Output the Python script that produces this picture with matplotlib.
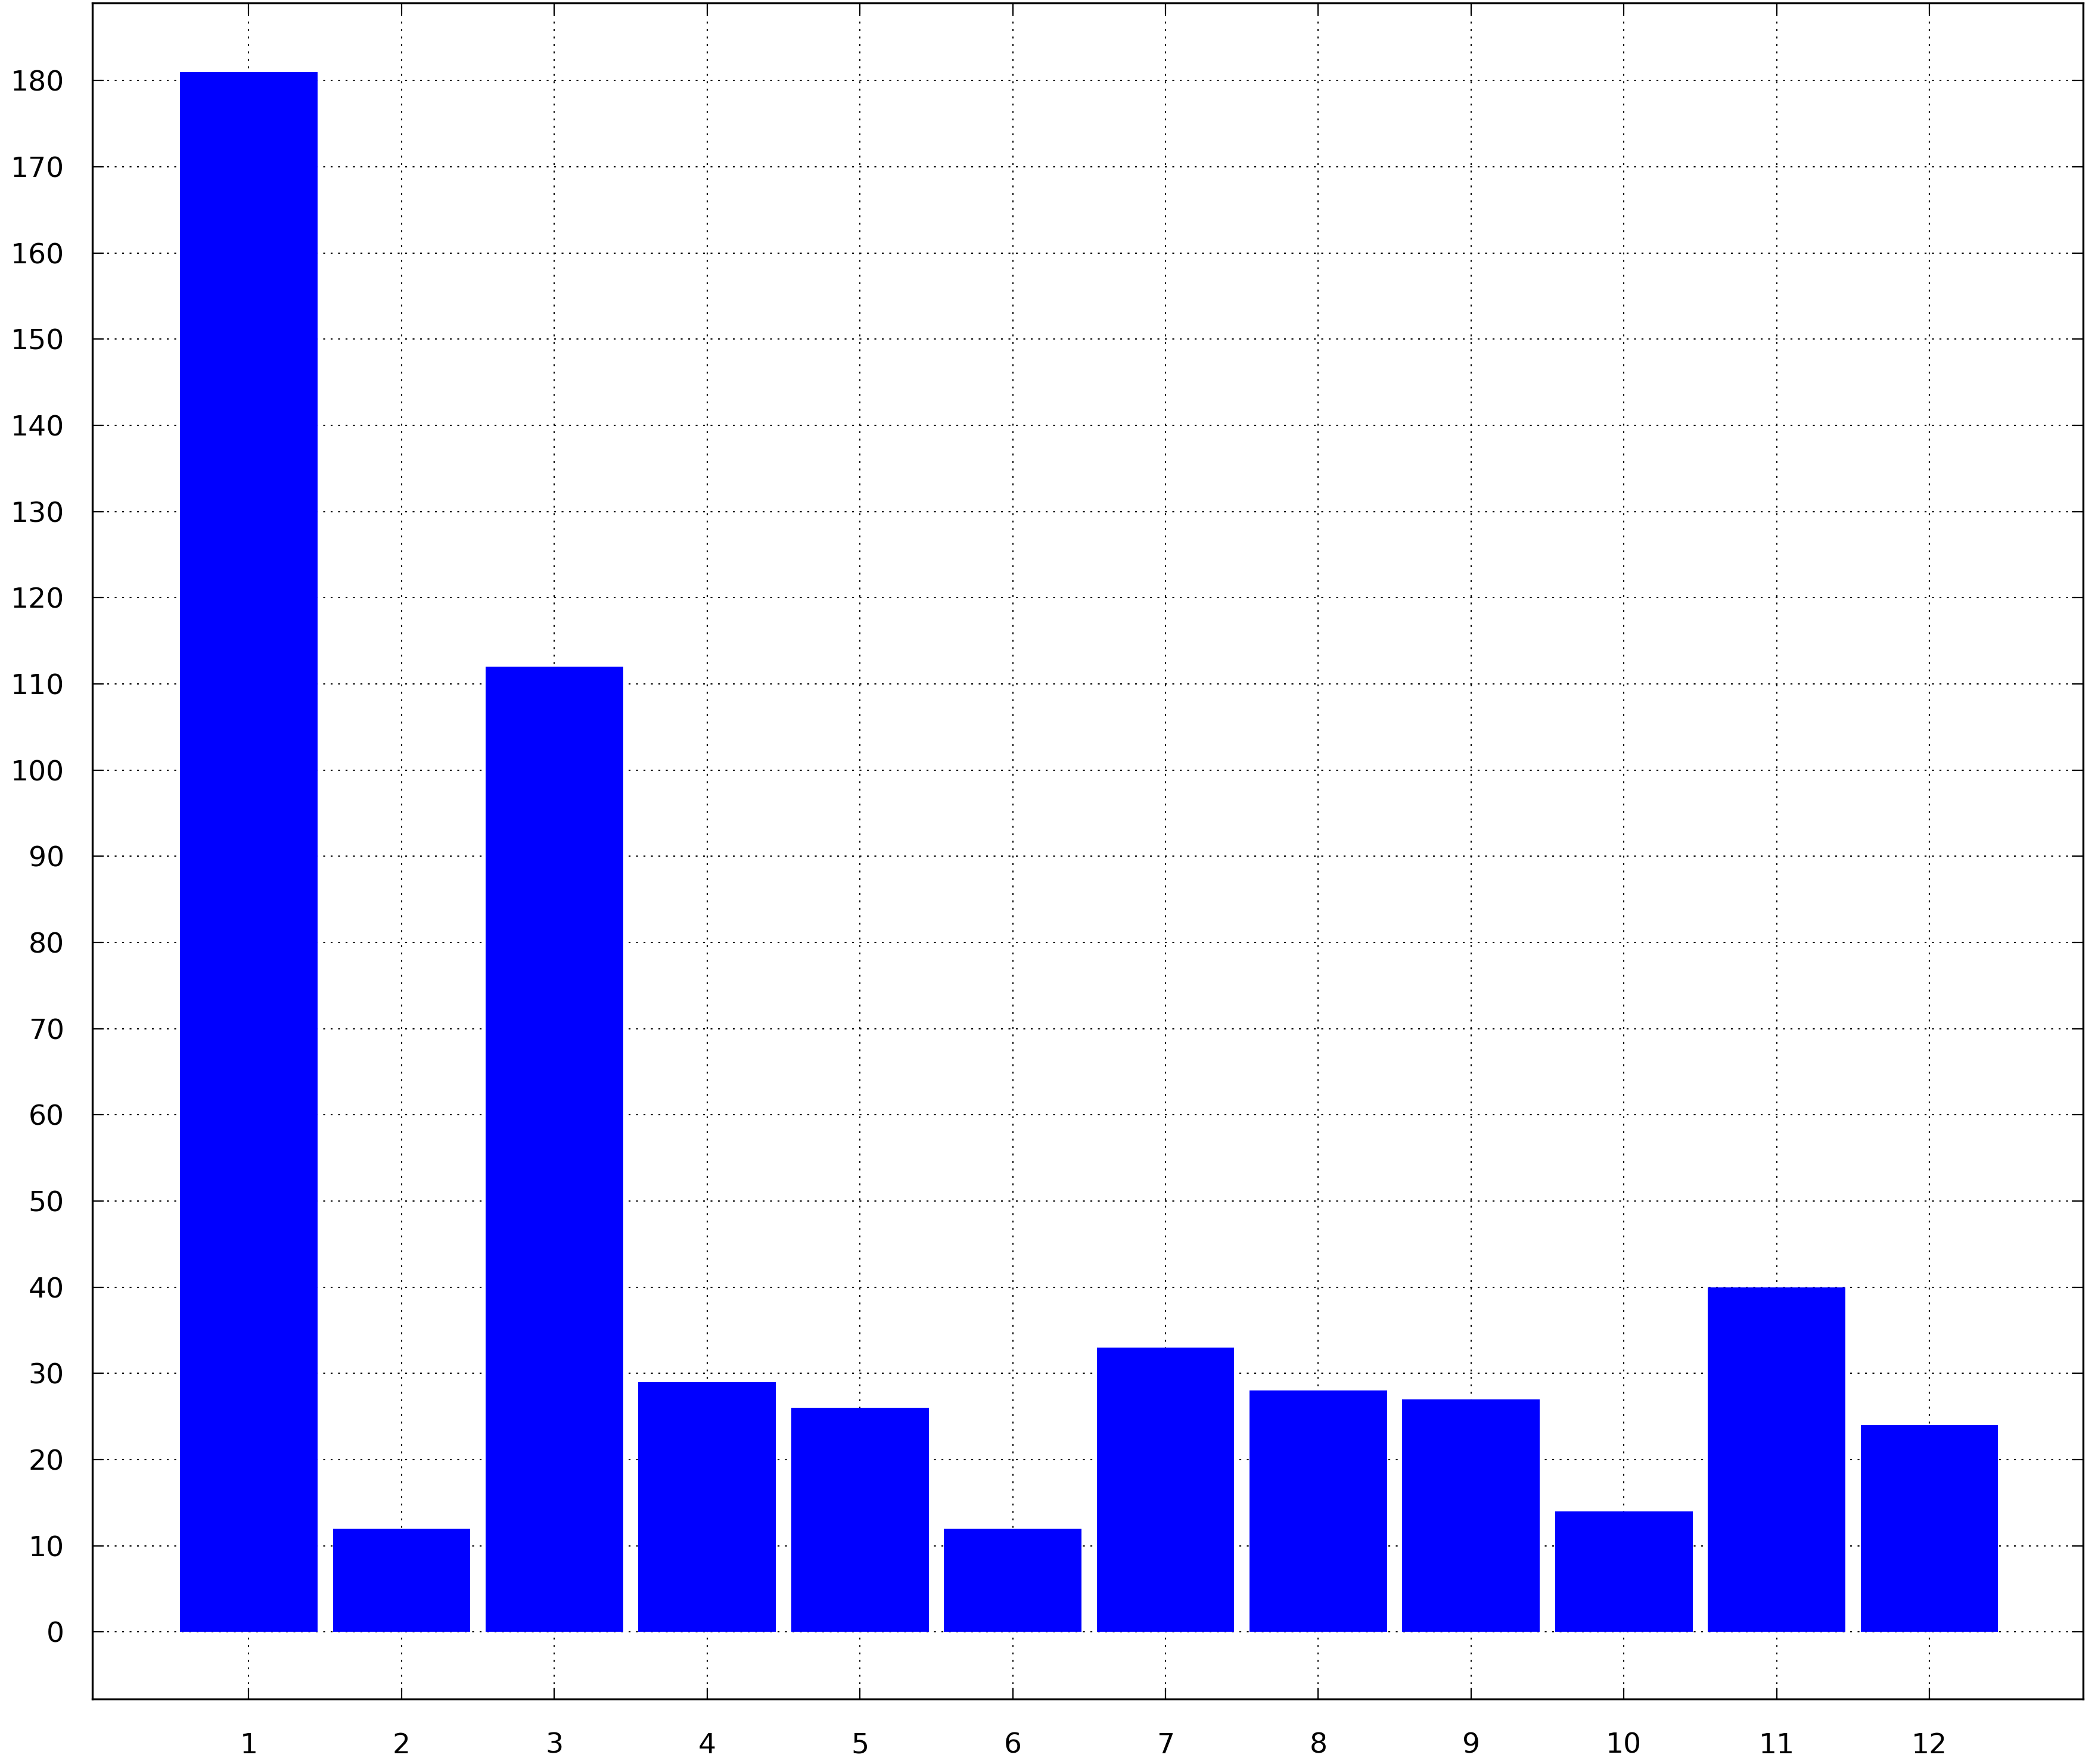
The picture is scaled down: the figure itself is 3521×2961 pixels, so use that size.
import numpy as np
import matplotlib
matplotlib.use("Agg")
import matplotlib.pyplot as plt

# data
categories = list(range(1, 13))
values = [181, 12, 112, 29, 26, 12, 33, 28, 27, 14, 40, 24]
yticks = list(range(0, 190, 10))

fig = plt.figure(figsize=(35.21, 29.61), dpi=100)
ax = fig.add_axes([0.044, 0.0368, 0.9489, 0.9615])

ax.bar(categories, values, width=0.9, color="#0000ff", edgecolor="none", zorder=2)

ax.set_xlim(-0.024, 13.006)
ax.set_ylim(-7.8, 189)
ax.set_xticks(categories)
ax.set_yticks(yticks)

ax.grid(True, color="black", linewidth=1.5, linestyle=(0, (1.5, 4.5)), zorder=0)
ax.set_axisbelow(True)

for s in ax.spines.values():
    s.set_linewidth(2.4)
    s.set_zorder(3)

ax.tick_params(axis="both", direction="in", length=14, width=1.6,
               top=True, right=True, labelsize=34, colors="black")
ax.tick_params(axis="x", pad=40)
ax.tick_params(axis="y", pad=34)
# gnuplot puts the x labels a touch right of the tick
for lab in ax.get_xticklabels():
    lab.set_x(lab.get_position()[0])
    lab.set_horizontalalignment("center")

fig.savefig("out.png", dpi=100)
